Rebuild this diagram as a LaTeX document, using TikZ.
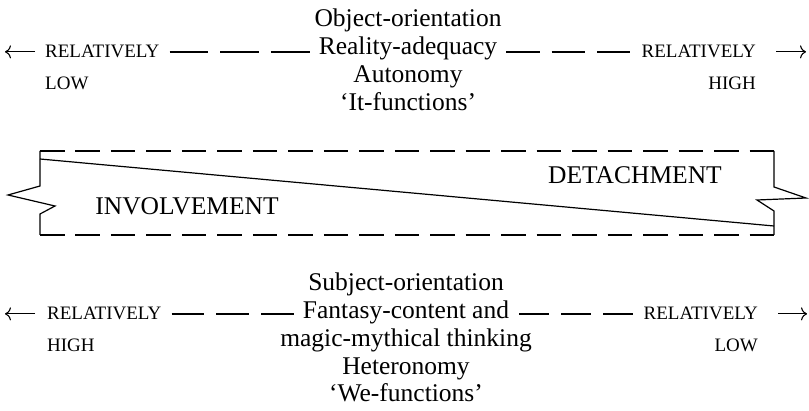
\documentclass[tikz,border=0pt]{standalone}
\usepackage{fontspec}
\setmainfont{Liberation Serif}
\usetikzlibrary{arrows.meta,calc}
\newcommand\mainsz{\fontsize{25.5}{28}\selectfont}
\newcommand\scsz{\fontsize{19}{20}\selectfont}
% three evenly spaced dashes between two points (gap 12pt)
\newcommand\threedash[2]{%
  \begin{scope}
  \draw[dashconn] let \p1=(#1), \p2=(#2), \n1={(\x2-\x1-24pt)/3} in
    \pgfextra{\pgfmathsetmacro\mydashlen{\n1}\pgfsetdash{{\mydashlen pt}{12pt}}{0pt}}
    (\p1) -- (\p2);
  \end{scope}}
\begin{document}
\begin{tikzpicture}[x=1pt,y=-1pt,
  maintxt/.style={font=\mainsz, anchor=base, inner sep=0pt},
  sctxt/.style={font=\scsz, inner sep=0pt},
  dashconn/.style={line width=1.7pt},
  boxdash/.style={line width=2pt, dash pattern=on 24.5pt off 10.975pt},
  edgeline/.style={solid, line width=1.2pt, line join=miter},
  arr/.style={solid, line width=1.1pt, -{To[length=6pt,width=13pt,line width=1.1pt]}}
]
\useasboundingbox (0,0) rectangle (809,411);

% ---------- upper block ----------
\node[maintxt] (obj)  at (408,27)  {Object-orientation};
\node[maintxt] (real) at (408,55)  {Reality-adequacy};
\node[maintxt] (auto) at (408,83)  {Autonomy};
\node[maintxt] (itf)  at (408,111) {`It-functions'};

\node[sctxt, anchor=base west] (relTL) at (45,58)  {RELATIVELY};
\node[sctxt, anchor=base west] (lowT)  at (45,90)  {LOW};
\node[sctxt, anchor=base east] (relTR) at (756,58) {RELATIVELY};
\node[sctxt, anchor=base east] (highT) at (756,90) {HIGH};

\coordinate (aTL) at ([xshift=-40pt]relTL.west);
\coordinate (aTR) at ([xshift=50pt]relTR.east);
\draw[arr, shorten <=10pt] (relTL.west) -- (aTL);
\draw[arr, shorten <=20pt] (relTR.east) -- (aTR);
\coordinate (dTL1) at ([xshift=10pt]relTL.east);
\coordinate (dTL2) at ([xshift=-9pt]real.west |- relTL.east);
\coordinate (dTR1) at ([xshift=9pt]real.east |- relTR.west);
\coordinate (dTR2) at ([xshift=-11pt]relTR.west);
\threedash{dTL1}{dTL2}
\threedash{dTR1}{dTR2}

% ---------- the band ----------
\coordinate (tl) at (40,151);
\coordinate (tr) at (774,151);
\coordinate (bl) at (40,235);
\coordinate (br) at (774,235);
\draw[boxdash] (tl) -- (tr);
\draw[boxdash] (bl) -- (br);
\draw[edgeline] (tl) -- (40,186) -- (8,195) -- (55,206) -- (40,214) -- (bl);
\draw[edgeline] (tr) -- (774,187) -- (806,198) -- (757,200) -- (774,211) -- (br);
\draw[edgeline] (40,159) -- (774,226);
\node[maintxt] (inv) at (187,215) {INVOLVEMENT};
\node[maintxt] (det) at (635,184) {DETACHMENT};

% ---------- lower block ----------
\node[maintxt] (subj) at (406,291) {Subject-orientation};
\node[maintxt] (fant) at (406,319) {Fantasy-content and};
\node[maintxt] (magic) at (406,347) {magic-mythical thinking};
\node[maintxt] (hetero) at (406,375) {Heteronomy};
\node[maintxt] (wef) at (406,402) {`We-functions'};

\node[sctxt, anchor=base west] (relBL) at (47,320)  {RELATIVELY};
\node[sctxt, anchor=base west] (highB) at (47,352)  {HIGH};
\node[sctxt, anchor=base east] (relBR) at (758,320) {RELATIVELY};
\node[sctxt, anchor=base east] (lowB)  at (758,352) {LOW};

\coordinate (aBL) at ([xshift=-42pt]relBL.west);
\coordinate (aBR) at ([xshift=49pt]relBR.east);
\draw[arr, shorten <=12pt] (relBL.west) -- (aBL);
\draw[arr, shorten <=20pt] (relBR.east) -- (aBR);
\coordinate (dBL1) at ([xshift=10pt]relBL.east);
\coordinate (dBL2) at ([xshift=-9pt]fant.west |- relBL.east);
\coordinate (dBR1) at ([xshift=10pt]fant.east |- relBR.west);
\coordinate (dBR2) at ([xshift=-10pt]relBR.west);
\threedash{dBL1}{dBL2}
\threedash{dBR1}{dBR2}
\end{tikzpicture}
\end{document}
